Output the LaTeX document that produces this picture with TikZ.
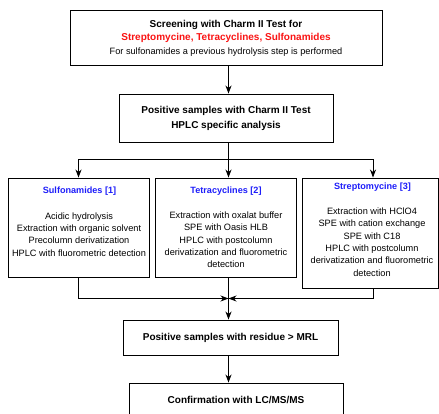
\documentclass[tikz,border=0pt]{standalone}
\usepackage{fontspec}
\setmainfont{Liberation Sans}
\usetikzlibrary{arrows.meta}
\definecolor{hred}{RGB}{250,20,20}
\definecolor{hblue}{RGB}{30,30,250}
\begin{document}
\begin{tikzpicture}[x=1pt,y=-1pt,
  box/.style={draw, line width=0.9pt, inner sep=0pt},
  conn/.style={line width=0.9pt},
  arr/.style={conn, -{Stealth[length=8pt,width=6pt,inset=2.5pt]}},
  head/.style={inner sep=0pt, text=hblue, font=\fontsize{9.1}{11}\selectfont\bfseries},
  body/.style={inner sep=0pt, align=center, font=\fontsize{9.2}{12.3}\selectfont}
]
\useasboundingbox (0,0) rectangle (439,414);
\fill[white] (0,0) rectangle (439,414);

% boxes
\node[box, minimum width=312pt, minimum height=55.3pt, align=center,
  font=\fontsize{10}{13.7}\selectfont] (screen) at (226,38.3)
  {\textbf{Screening with Charm II Test for}\\
   \textcolor{hred}{\textbf{Streptomycine, Tetracyclines, Sulfonamides}}\\
   {\fontsize{9.2}{13.7}\selectfont For sulfonamides a previous hydrolysis step is performed}};
\node[box, minimum width=214pt, minimum height=48pt, align=center,
  font=\fontsize{10}{15}\selectfont\bfseries] (pos) at (226,118)
  {Positive samples with Charm II Test\\HPLC specific analysis};

\node[box, minimum width=141pt, minimum height=99pt] (sulfo) at (78.5,227.5) {};
\node[box, minimum width=141pt, minimum height=99pt] (tetra) at (225.5,227.5) {};
\node[box, minimum width=136.5pt, minimum height=110pt] (strep) at (370.25,233) {};

\node[head] (sulfoh) at (79.5,191) {Sulfonamides [1]};
\node[body] (sulfob) at (79,234.5) {Acidic hydrolysis\\Extraction with organic solvent\\Precolumn derivatization\\HPLC with fluorometric detection};
\node[head] (tetrah) at (226,191) {Tetracyclines [2]};
\node[body] (tetrab) at (226,240) {Extraction with oxalat buffer\\SPE with Oasis HLB\\HPLC with postcolumn\\derivatization and fluorometric\\detection};
\node[head] (streph) at (372.5,187) {Streptomycine [3]};
\node[body] (strepb) at (372,242) {Extraction with HClO4\\SPE with cation exchange\\SPE with C18\\HPLC with postcolumn\\derivatization and fluorometric\\detection};

\node[box, minimum width=215pt, minimum height=35pt,
  font=\fontsize{10}{12}\selectfont\bfseries] (residue) at (230.5,337.5)
  {Positive samples with residue > MRL};
\node[box, minimum width=214pt, minimum height=34pt,
  font=\fontsize{10}{12}\selectfont\bfseries] (confirm) at (236,400)
  {Confirmation with LC/MS/MS};

% connectors
\coordinate (mid) at (228.5,0);
\coordinate (sx) at (373,0);
\coordinate (split) at (228.5,159);
\coordinate (merge) at (228.5,298.5);
\draw[arr] (screen.south -| mid) -- (pos.north -| mid);
\draw[conn] (pos.south -| mid) -- (split);
\draw[arr] (split) -- (tetra.north -| mid);
\draw[arr] (split) -| (sulfo.north);
\draw[arr] (split) -| (strep.north -| sx);
\draw[arr] (sulfo.south) |- (merge);
\draw[arr] (strep.south -| sx) |- (merge);
\draw[arr] (tetra.south -| mid) -- (residue.north -| mid);
\draw[arr] (residue.south -| mid) -- (confirm.north -| mid);
\end{tikzpicture}
\end{document}
